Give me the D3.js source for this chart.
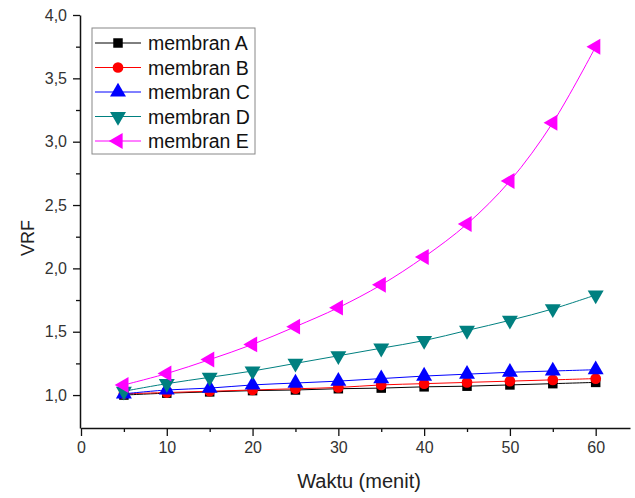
<!DOCTYPE html>
<html lang="en">
<head>
<meta charset="UTF-8">
<script src="https://d3js.org/d3.v7.min.js"></script>
<style>
  body { margin: 0; background: #fff; font-family: Arial, "Liberation Sans", sans-serif; }
  svg { display: block; }
</style>
</head>
<body>
<svg id="chart" width="635" height="498"></svg>
<script>
const waktu = [5, 10, 15, 20, 25, 30, 35, 40, 45, 50, 55, 60];
const membranA = [1.00, 1.015, 1.025, 1.035, 1.04, 1.05, 1.055, 1.065, 1.07, 1.08, 1.09, 1.10];
const membranB = [1.01, 1.02, 1.03, 1.04, 1.05, 1.06, 1.08, 1.09, 1.10, 1.11, 1.12, 1.13];
const membranC = [1.01, 1.04, 1.055, 1.08, 1.095, 1.11, 1.13, 1.15, 1.165, 1.18, 1.19, 1.20];
const membranD = [1.03, 1.09, 1.14, 1.19, 1.25, 1.31, 1.37, 1.43, 1.51, 1.59, 1.68, 1.79];
const membranE = [1.08, 1.17, 1.28, 1.40, 1.54, 1.69, 1.87, 2.09, 2.35, 2.69, 3.15, 3.75];
const xTicks = [0, 10, 20, 30, 40, 50, 60];
const yTicks = [1.0, 1.5, 2.0, 2.5, 3.0, 3.5, 4.0];

const series = [
  { name: "membran A", values: membranA, color: "#000000", symbol: d3.symbolSquare, size: 90, rot: 0 },
  { name: "membran B", values: membranB, color: "#ff0000", symbol: d3.symbolCircle, size: 90, rot: 0 },
  { name: "membran C", values: membranC, color: "#0000ff", symbol: d3.symbolTriangle, size: 110, rot: 0 },
  { name: "membran D", values: membranD, color: "#008080", symbol: d3.symbolTriangle, size: 110, rot: 180 },
  { name: "membran E", values: membranE, color: "#ff00ff", symbol: d3.symbolTriangle, size: 110, rot: -90 }
];

const svg = d3.select("#chart");
const x = d3.scaleLinear().domain([0, 64]).range([81, 630]);
const y = d3.scaleLinear().domain([0.74, 4.0]).range([428, 15]);
const fmt = d => d3.format(".1f")(d).replace(".", ",");

// axes
const yAxis = svg.append("g").attr("transform", "translate(80,0)")
  .call(d3.axisLeft(y).tickValues(yTicks).tickFormat(fmt).tickSize(7).tickSizeOuter(0));
svg.append("g").attr("transform", "translate(80,0)")
  .call(d3.axisLeft(y).tickValues(d3.range(1.25, 4, 0.5)).tickFormat("").tickSize(4).tickSizeOuter(0))
  .select(".domain").remove();
const xAxis = svg.append("g").attr("transform", "translate(0,428)")
  .call(d3.axisBottom(x).tickValues(xTicks).tickFormat(d3.format("d")).tickSize(8).tickSizeOuter(0));
svg.append("g").attr("transform", "translate(0,428)")
  .call(d3.axisBottom(x).tickValues(d3.range(5, 64, 10)).tickFormat("").tickSize(4).tickSizeOuter(0))
  .select(".domain").remove();

svg.selectAll(".domain").attr("stroke", "#111").attr("stroke-width", 1.5);
svg.selectAll(".tick line").attr("stroke", "#111").attr("stroke-width", 1.3);
yAxis.selectAll("text").attr("font-size", 16).attr("fill", "#333").attr("font-family", "Arial, sans-serif").attr("dx", "-3");
xAxis.selectAll("text").attr("font-size", 16).attr("fill", "#333").attr("font-family", "Arial, sans-serif").attr("dy", "0.85em");

svg.append("text").attr("x", 359).attr("y", 488).attr("text-anchor", "middle")
  .attr("font-size", 20).attr("fill", "#222").text("Waktu (menit)");
svg.append("text").attr("transform", "translate(34,238) rotate(-90)").attr("text-anchor", "middle")
  .attr("font-size", 18).attr("fill", "#222").text("VRF");

// lines and markers
const line = d3.line().x((d, i) => x(waktu[i])).y(d => y(d)).curve(d3.curveCatmullRom);
series.forEach(s => {
  svg.append("path").datum(s.values).attr("d", line)
    .attr("fill", "none").attr("stroke", s.color).attr("stroke-width", 1);
});
series.forEach(s => {
  svg.append("g").selectAll("path").data(s.values).join("path")
    .attr("d", d3.symbol().type(s.symbol).size(s.size))
    .attr("transform", (d, i) => `translate(${x(waktu[i])},${y(d)}) rotate(${s.rot})`)
    .attr("fill", s.color);
});

// legend
const leg = svg.append("g");
leg.append("rect").attr("x", 92).attr("y", 28).attr("width", 163).attr("height", 126)
  .attr("fill", "#fff").attr("stroke", "#888").attr("stroke-width", 1);
series.forEach((s, i) => {
  const cy = 43 + i * 24.5;
  leg.append("line").attr("x1", 95).attr("x2", 141).attr("y1", cy).attr("y2", cy)
    .attr("stroke", s.color).attr("stroke-width", 1);
  leg.append("path").attr("d", d3.symbol().type(s.symbol).size(s.size))
    .attr("transform", `translate(118,${cy}) rotate(${s.rot})`).attr("fill", s.color);
  leg.append("text").attr("x", 148).attr("y", cy).attr("dy", "0.36em")
    .attr("font-size", 19.5).attr("fill", "#111").text(s.name);
});
</script>
</body>
</html>
